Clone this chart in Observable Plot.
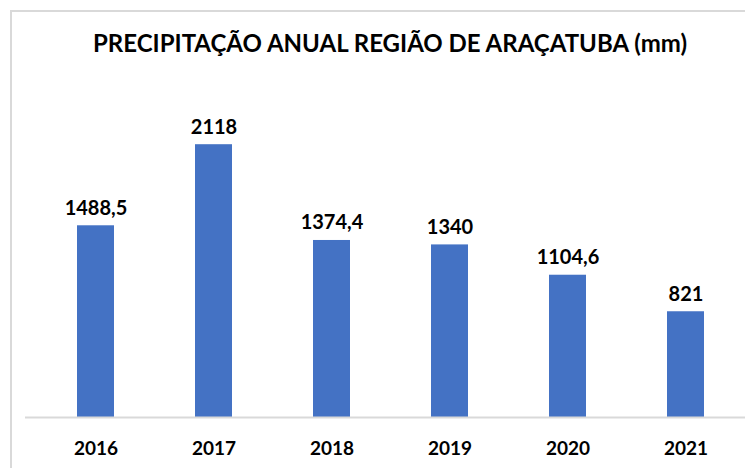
<!DOCTYPE html>
<html>
<head>
<meta charset="utf-8">
<script src="https://cdn.jsdelivr.net/npm/d3@7"></script>
<script src="https://cdn.jsdelivr.net/npm/@observablehq/plot@0.6"></script>
<style>
  body { margin: 0; background: #fff; }
  #wrap { position: relative; width: 745px; height: 468px; overflow: hidden; font-family: Lato, "Open Sans", sans-serif; }
  #frame { position: absolute; left: 10px; top: 10px; width: 760px; height: 470px; border-top: 2px solid #d9d9d9; border-left: 2px solid #d9d9d9; }
  #title { position: absolute; left: 0; width: 780px; top: 28px; text-align: center; font-weight: bold; font-size: 24px; color: #000; letter-spacing: 0px; }
  #chart { position: absolute; left: 0; top: 0; }
</style>
</head>
<body>
<div id="wrap">
  <div id="frame"></div>
  <div id="chart"></div>
  <div id="title">PRECIPITAÇÃO ANUAL REGIÃO DE ARAÇATUBA (mm)</div>
</div>
<script>
const years = ["2016", "2017", "2018", "2019", "2020", "2021"];
const values = [1488.5, 2118, 1374.4, 1340, 1104.6, 821];

const data = years.map((y, i) => ({year: y, value: values[i], label: String(values[i]).replace(".", ",")}));

const chart = Plot.plot({
  width: 745,
  height: 468,
  marginLeft: 25,
  marginRight: 0,
  marginTop: 95,
  marginBottom: 51,
  style: {background: "transparent", fontFamily: "Lato, 'Open Sans', sans-serif"},
  x: {domain: years, paddingInner: 0.69, paddingOuter: 0.345, insetLeft: 10, label: null},
  y: {domain: [0, 2500], axis: null},
  marks: [
    Plot.barY(data, {x: "year", y: "value", fill: "#4472C4"}),
    Plot.ruleY([0], {stroke: "#d9d9d9", strokeWidth: 2}),
    Plot.text(data, {x: "year", y: "value", text: "label", lineAnchor: "bottom", dy: -11, fontSize: 20, fontWeight: "bold", fill: "#000"}),
    Plot.axisX({tickSize: 0, tickPadding: 24, fontSize: 19, fontWeight: "bold", fill: "#000", label: null})
  ]
});
document.getElementById("chart").appendChild(chart);
</script>
</body>
</html>
